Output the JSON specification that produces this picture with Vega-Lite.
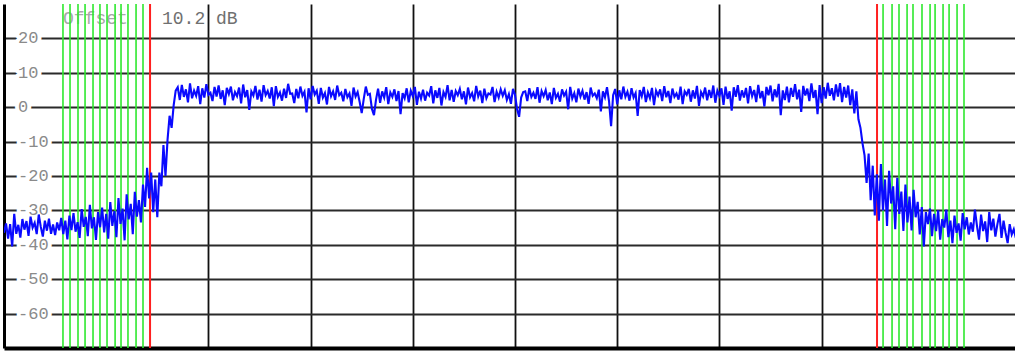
{
  "$schema": "https://vega.github.io/schema/vega-lite/v6.json",
  "autosize": {"type": "none"},
  "width": 1011,
  "height": 344,
  "padding": {"left": 4, "top": 4, "right": 0, "bottom": 4},
  "background": "white",
  "config": {
    "view": {"stroke": null},
    "axis": {"labels": false, "ticks": false, "title": null}
  },
  "datasets": {
    "trace": [
      {"f":0,"d":-36.5},{"f":2,"d":-33.8},{"f":4,"d":-38.2},{"f":6,"d":-34.0},{"f":8,"d":-40.5},{"f":10,"d":-31.0},{"f":12,"d":-36.8},{"f":14,"d":-34.2},{"f":16,"d":-37.9},{"f":18,"d":-32.5},
      {"f":20,"d":-35.6},{"f":22,"d":-33.1},{"f":24,"d":-37.4},{"f":26,"d":-31.8},{"f":28,"d":-35.0},{"f":30,"d":-33.6},{"f":32,"d":-36.9},{"f":34,"d":-31.2},{"f":36,"d":-34.8},{"f":38,"d":-37.6},
      {"f":40,"d":-33.0},{"f":42,"d":-35.9},{"f":44,"d":-32.4},{"f":46,"d":-36.8},{"f":48,"d":-34.1},{"f":50,"d":-37.2},{"f":52,"d":-33.5},{"f":54,"d":-35.8},
      {"f":56,"d":-32.2},{"f":58,"d":-36.9},{"f":60,"d":-33.0},{"f":62,"d":-38.4},{"f":64,"d":-31.5},{"f":66,"d":-35.7},{"f":68,"d":-30.8},{"f":70,"d":-36.2},{"f":72,"d":-33.4},{"f":74,"d":-38.0},
      {"f":76,"d":-29.6},{"f":78,"d":-34.8},{"f":80,"d":-31.9},{"f":82,"d":-37.5},{"f":84,"d":-28.4},{"f":86,"d":-35.2},{"f":88,"d":-32.0},{"f":90,"d":-38.6},{"f":92,"d":-30.5},{"f":94,"d":-34.9},
      {"f":96,"d":-29.2},{"f":98,"d":-36.4},{"f":100,"d":-31.0},{"f":102,"d":-38.2},{"f":104,"d":-27.6},{"f":106,"d":-34.5},{"f":108,"d":-30.2},{"f":110,"d":-37.8},{"f":112,"d":-26.4},{"f":114,"d":-33.9},
      {"f":116,"d":-29.5},{"f":118,"d":-38.7},{"f":120,"d":-25.3},{"f":122,"d":-32.6},{"f":124,"d":-28.1},{"f":126,"d":-36.9},{"f":128,"d":-24.6},{"f":130,"d":-31.8},{"f":132,"d":-27.0},{"f":134,"d":-33.5},
      {"f":136,"d":-22.5},{"f":138,"d":-29.0},{"f":140,"d":-17.6},{"f":142,"d":-26.5},{"f":144,"d":-19.0},{"f":146,"d":-30.5},{"f":148,"d":-21.0},
      {"f":150,"d":-32.0},{"f":152,"d":-19.0},{"f":154,"d":-23.0},{"f":156,"d":-11.0},{"f":158,"d":-20.0},{"f":160,"d":-9.5},{"f":162,"d":-2.5},{"f":164,"d":-6.0},{"f":166,"d":0.5},{"f":168,"d":4.8},
      {"f":170,"d":5.8},{"f":172,"d":2.1},{"f":174,"d":6.5},{"f":176,"d":3.0},{"f":178,"d":5.2},{"f":180,"d":1.4},{"f":182,"d":6.9},{"f":184,"d":2.6},{"f":186,"d":4.8},{"f":188,"d":3.3},
      {"f":190,"d":6.1},{"f":192,"d":0.9},{"f":194,"d":5.5},{"f":196,"d":2.8},{"f":198,"d":6.7},{"f":200,"d":3.6},{"f":202,"d":4.2},{"f":204,"d":1.8},{"f":206,"d":5.9},{"f":208,"d":3.1},
      {"f":210,"d":6.3},{"f":212,"d":2.4},{"f":214,"d":4.9},{"f":216,"d":0.6},{"f":218,"d":5.6},{"f":220,"d":3.8},{"f":222,"d":6.0},{"f":224,"d":2.0},{"f":226,"d":4.4},{"f":228,"d":3.2},
      {"f":230,"d":5.7},{"f":232,"d":1.1},{"f":234,"d":6.6},{"f":236,"d":2.9},{"f":238,"d":5.0},{"f":240,"d":-0.8},{"f":242,"d":4.6},{"f":244,"d":3.4},{"f":246,"d":6.2},{"f":248,"d":2.2},
      {"f":250,"d":5.1},{"f":252,"d":1.6},{"f":254,"d":6.4},{"f":256,"d":3.5},{"f":258,"d":4.7},{"f":260,"d":2.5},{"f":262,"d":5.8},{"f":264,"d":0.3},{"f":266,"d":6.1},{"f":268,"d":3.0},
      {"f":270,"d":4.3},{"f":272,"d":1.9},{"f":274,"d":5.4},{"f":276,"d":2.7},{"f":278,"d":6.8},{"f":280,"d":3.9},{"f":282,"d":4.0},{"f":284,"d":1.2},{"f":286,"d":5.3},{"f":288,"d":2.6},
      {"f":290,"d":6.0},{"f":292,"d":3.3},{"f":294,"d":4.5},{"f":296,"d":-1.5},{"f":298,"d":5.5},{"f":300,"d":2.3},{"f":302,"d":6.2},{"f":304,"d":3.7},{"f":306,"d":4.8},{"f":308,"d":1.0},
      {"f":310,"d":5.6},{"f":312,"d":2.8},{"f":314,"d":4.1},{"f":316,"d":0.8},{"f":318,"d":5.9},{"f":320,"d":3.2},{"f":322,"d":4.6},{"f":324,"d":2.1},{"f":326,"d":6.3},{"f":328,"d":3.5},
      {"f":330,"d":4.2},{"f":332,"d":1.7},{"f":334,"d":5.3},{"f":336,"d":2.9},{"f":338,"d":4.0},{"f":340,"d":0.4},{"f":342,"d":5.7},{"f":344,"d":3.1},{"f":346,"d":4.4},{"f":348,"d":1.5},
      {"f":350,"d":-1.7},{"f":352,"d":2.4},{"f":354,"d":6.0},{"f":356,"d":3.6},{"f":358,"d":3.9},{"f":360,"d":-0.5},{"f":362,"d":-2.3},{"f":364,"d":2.2},{"f":366,"d":5.4},{"f":368,"d":1.3},
      {"f":370,"d":4.6},{"f":372,"d":2.8},{"f":374,"d":5.8},{"f":376,"d":0.9},{"f":378,"d":4.3},{"f":380,"d":3.0},{"f":382,"d":5.2},{"f":384,"d":1.8},{"f":386,"d":4.7},{"f":388,"d":-2.0},
      {"f":390,"d":4.1},{"f":392,"d":2.6},{"f":394,"d":5.5},{"f":396,"d":1.4},{"f":398,"d":4.8},{"f":400,"d":3.2},{"f":402,"d":5.9},{"f":404,"d":0.7},{"f":406,"d":4.5},{"f":408,"d":2.5},
      {"f":410,"d":5.1},{"f":412,"d":1.9},{"f":414,"d":4.2},{"f":416,"d":3.4},{"f":418,"d":6.1},{"f":420,"d":1.1},{"f":422,"d":4.9},{"f":424,"d":2.7},{"f":426,"d":5.6},{"f":428,"d":0.5},
      {"f":430,"d":4.4},{"f":432,"d":3.0},{"f":434,"d":6.4},{"f":436,"d":2.0},{"f":438,"d":5.0},{"f":440,"d":1.6},{"f":442,"d":4.7},{"f":444,"d":3.5},{"f":446,"d":5.3},{"f":448,"d":2.3},
      {"f":450,"d":4.6},{"f":452,"d":0.8},{"f":454,"d":5.7},{"f":456,"d":2.9},{"f":458,"d":4.1},{"f":460,"d":1.7},{"f":462,"d":6.2},{"f":464,"d":3.1},{"f":466,"d":4.8},{"f":468,"d":1.2},
      {"f":470,"d":5.4},{"f":472,"d":2.6},{"f":474,"d":4.0},{"f":476,"d":3.7},{"f":478,"d":5.9},{"f":480,"d":1.5},{"f":482,"d":4.5},{"f":484,"d":2.8},{"f":486,"d":5.2},{"f":488,"d":3.3},
      {"f":490,"d":4.9},{"f":492,"d":2.1},{"f":494,"d":3.8},{"f":496,"d":1.0},{"f":498,"d":5.3},{"f":500,"d":3.6},{"f":502,"d":-0.5},{"f":504,"d":-2.8},{"f":506,"d":2.8},{"f":508,"d":4.4},
      {"f":510,"d":4.6},{"f":512,"d":1.8},{"f":514,"d":5.5},{"f":516,"d":3.0},{"f":518,"d":4.2},{"f":520,"d":2.4},{"f":522,"d":5.8},{"f":524,"d":1.3},{"f":526,"d":4.7},{"f":528,"d":3.2},
      {"f":530,"d":5.0},{"f":532,"d":2.0},{"f":534,"d":4.3},{"f":536,"d":0.9},{"f":538,"d":5.6},{"f":540,"d":2.7},{"f":542,"d":3.9},{"f":544,"d":1.6},{"f":546,"d":5.2},{"f":548,"d":3.4},
      {"f":550,"d":4.5},{"f":552,"d":-0.6},{"f":554,"d":5.9},{"f":556,"d":2.5},{"f":558,"d":4.1},{"f":560,"d":1.4},{"f":562,"d":5.4},{"f":564,"d":3.1},{"f":566,"d":4.8},{"f":568,"d":2.2},
      {"f":570,"d":4.4},{"f":572,"d":1.0},{"f":574,"d":5.7},{"f":576,"d":3.3},{"f":578,"d":4.0},{"f":580,"d":2.6},{"f":582,"d":5.1},{"f":584,"d":-1.2},{"f":586,"d":4.6},{"f":588,"d":2.9},
      {"f":590,"d":5.8},{"f":592,"d":1.7},{"f":594,"d":-5.5},{"f":596,"d":3.5},{"f":598,"d":5.3},{"f":600,"d":0.8},{"f":602,"d":4.9},{"f":604,"d":2.3},{"f":606,"d":6.0},{"f":608,"d":3.0},
      {"f":610,"d":4.5},{"f":612,"d":1.9},{"f":614,"d":5.5},{"f":616,"d":2.8},{"f":618,"d":4.1},{"f":620,"d":-2.5},{"f":622,"d":5.0},{"f":624,"d":3.2},{"f":626,"d":5.9},{"f":628,"d":1.5},
      {"f":630,"d":4.3},{"f":632,"d":2.6},{"f":634,"d":5.6},{"f":636,"d":0.6},{"f":638,"d":4.8},{"f":640,"d":3.4},{"f":642,"d":5.2},{"f":644,"d":1.8},{"f":646,"d":6.1},{"f":648,"d":2.9},
      {"f":650,"d":4.7},{"f":652,"d":1.2},{"f":654,"d":5.4},{"f":656,"d":3.0},{"f":658,"d":4.0},{"f":660,"d":2.2},{"f":662,"d":6.0},{"f":664,"d":0.9},{"f":666,"d":4.6},{"f":668,"d":3.6},
      {"f":670,"d":5.3},{"f":672,"d":1.6},{"f":674,"d":4.9},{"f":676,"d":2.5},{"f":678,"d":6.2},{"f":680,"d":0.4},{"f":682,"d":4.4},{"f":684,"d":3.1},{"f":686,"d":5.7},{"f":688,"d":2.0},
      {"f":690,"d":5.0},{"f":692,"d":2.7},{"f":694,"d":6.3},{"f":696,"d":1.3},{"f":698,"d":4.8},{"f":700,"d":3.3},{"f":702,"d":5.5},{"f":704,"d":0.7},{"f":706,"d":6.0},{"f":708,"d":2.4},
      {"f":710,"d":4.6},{"f":712,"d":-1.0},{"f":714,"d":5.8},{"f":716,"d":3.0},{"f":718,"d":6.4},{"f":720,"d":1.9},{"f":722,"d":4.9},{"f":724,"d":2.8},{"f":726,"d":5.6},{"f":728,"d":1.1},
      {"f":730,"d":6.1},{"f":732,"d":3.2},{"f":734,"d":5.0},{"f":736,"d":1.5},{"f":738,"d":6.5},{"f":740,"d":2.6},{"f":742,"d":4.7},{"f":744,"d":0.2},{"f":746,"d":5.9},{"f":748,"d":3.5},
      {"f":750,"d":6.3},{"f":752,"d":1.7},{"f":754,"d":5.2},{"f":756,"d":2.9},{"f":758,"d":6.8},{"f":760,"d":-2.3},{"f":762,"d":4.9},{"f":764,"d":2.1},{"f":766,"d":6.0},{"f":768,"d":1.4},
      {"f":770,"d":5.6},{"f":772,"d":3.0},{"f":774,"d":6.7},{"f":776,"d":2.3},{"f":778,"d":5.1},{"f":780,"d":-1.4},{"f":782,"d":6.2},{"f":784,"d":3.4},{"f":786,"d":5.4},{"f":788,"d":1.8},
      {"f":790,"d":6.9},{"f":792,"d":2.7},{"f":794,"d":5.0},{"f":796,"d":-2.0},{"f":798,"d":6.4},{"f":800,"d":1.2},{"f":802,"d":5.8},{"f":804,"d":2.5},{"f":806,"d":7.1},{"f":808,"d":3.3},
      {"f":810,"d":5.5},{"f":812,"d":2.0},{"f":814,"d":6.6},{"f":816,"d":3.1},{"f":818,"d":7.0},{"f":820,"d":1.5},{"f":822,"d":5.9},{"f":824,"d":2.8},{"f":826,"d":6.3},{"f":828,"d":0.6},
      {"f":830,"d":5.2},{"f":832,"d":-1.8},{"f":834,"d":4.6},{"f":836,"d":-3.5},{"f":838,"d":-6.0},{"f":840,"d":-10.5},{"f":842,"d":-14.0},{"f":844,"d":-22.0},{"f":846,"d":-13.5},{"f":848,"d":-27.0},
      {"f":850,"d":-17.0},{"f":852,"d":-31.5},{"f":854,"d":-19.5},{"f":856,"d":-33.0},{"f":858,"d":-16.5},{"f":860,"d":-30.0},{"f":862,"d":-21.0},{"f":864,"d":-34.5},{"f":866,"d":-18.5},{"f":868,"d":-28.0},
      {"f":870,"d":-23.0},{"f":872,"d":-35.5},{"f":874,"d":-20.5},{"f":876,"d":-31.0},{"f":878,"d":-24.5},{"f":880,"d":-36.0},{"f":882,"d":-22.5},{"f":884,"d":-33.5},{"f":886,"d":-26.0},{"f":888,"d":-35.8},
      {"f":890,"d":-24.0},{"f":892,"d":-32.0},{"f":894,"d":-27.5},{"f":896,"d":-37.0},{"f":898,"d":-29.0},{"f":900,"d":-40.5},{"f":902,"d":-30.5},{"f":904,"d":-34.0},{"f":906,"d":-29.5},{"f":908,"d":-37.5},
      {"f":910,"d":-31.0},{"f":912,"d":-36.0},{"f":914,"d":-30.0},{"f":916,"d":-38.5},{"f":918,"d":-32.5},{"f":920,"d":-35.0},{"f":922,"d":-29.8},{"f":924,"d":-37.8},{"f":926,"d":-33.0},{"f":928,"d":-39.5},
      {"f":930,"d":-31.5},{"f":932,"d":-36.5},{"f":934,"d":-33.8},{"f":936,"d":-38.8},{"f":938,"d":-30.8},{"f":940,"d":-35.5},{"f":942,"d":-32.0},{"f":944,"d":-37.0},{"f":946,"d":-33.5},{"f":948,"d":-36.2},
      {"f":950,"d":-29.8},{"f":952,"d":-34.5},{"f":954,"d":-38.5},{"f":956,"d":-31.2},{"f":958,"d":-36.0},{"f":960,"d":-33.2},{"f":962,"d":-39.2},{"f":964,"d":-30.5},{"f":966,"d":-35.8},{"f":968,"d":-32.4},
      {"f":970,"d":-37.6},{"f":972,"d":-34.0},{"f":974,"d":-31.0},{"f":976,"d":-38.0},{"f":978,"d":-33.0},{"f":980,"d":-36.5},{"f":982,"d":-39.5},{"f":984,"d":-34.0},{"f":986,"d":-37.0},{"f":988,"d":-35.5},{"f":990,"d":-38.0}
    ],
    "green": [
      {"p":57.7},{"p":64.6},{"p":72.4},{"p":79.3},{"p":87.1},{"p":93.9},{"p":100.8},{"p":108.7},{"p":114.5},{"p":121.3},{"p":129.2},{"p":136.0},
      {"p":860.1},{"p":868.9},{"p":875.7},{"p":883.6},{"p":889.4},{"p":898.2},{"p":906.1},{"p":911.0},{"p":918.8},{"p":924.7},{"p":932.5},{"p":939.3}
    ],
    "red": [{"p":142.9},{"p":854.2}],
    "labels": [
      {"v":20,"t":"20"},{"v":10,"t":"10"},{"v":0,"t":"0"},{"v":-10,"t":"-10"},{"v":-20,"t":"-20"},
      {"v":-30,"t":"-30"},{"v":-40,"t":"-40"},{"v":-50,"t":"-50"},{"v":-60,"t":"-60"}
    ]
  },
  "layer": [
    {
      "data": {"name": "labels"},
      "mark": {"type": "text", "align": "left", "baseline": "middle", "font": "Liberation Mono", "fontSize": 17, "color": "white", "stroke": "white", "strokeWidth": 8, "strokeJoin": "round"},
      "encoding": {
        "x": {"datum": 13.7, "type": "quantitative", "scale": {"domain": [0, 989.2], "nice": false, "zero": false},
              "axis": {"orient": "bottom", "grid": true, "values": [200,300,400,500,600,700,800], "gridColor": "#111111", "gridWidth": 1.8, "domainColor": "#000000", "domainWidth": 4, "labels": false, "ticks": false, "title": null}},
        "y": {"field": "v", "type": "quantitative", "title": null, "scale": {"domain": [-70, 30], "nice": false, "zero": false},
              "axis": {"orient": "left", "grid": true, "values": [-60,-50,-40,-30,-20,-10,0,10,20], "gridColor": "#2a2a2a", "gridWidth": 2, "domainColor": "#000000", "domainWidth": 3, "labels": false, "ticks": false, "title": null}},
        "text": {"field": "t"}
      }
    },
    {
      "data": {"name": "labels"},
      "mark": {"type": "text", "align": "left", "baseline": "middle", "font": "Liberation Mono", "fontSize": 17, "color": "#8a8a8a"},
      "encoding": {
        "x": {"datum": 13.7, "type": "quantitative"},
        "y": {"field": "v", "type": "quantitative", "title": null},
        "text": {"field": "t"}
      }
    },
    {
      "data": {"values": [{"t": "Offset"}]},
      "mark": {"type": "text", "align": "left", "baseline": "middle", "font": "Liberation Mono", "fontSize": 18, "color": "#a8a8a8"},
      "encoding": {
        "x": {"datum": 57.7, "type": "quantitative"},
        "y": {"datum": 25.6, "type": "quantitative"},
        "text": {"field": "t"}
      }
    },
    {
      "data": {"values": [{"t": "10.2 dB"}]},
      "mark": {"type": "text", "align": "left", "baseline": "middle", "font": "Liberation Mono", "fontSize": 18, "color": "#707070"},
      "encoding": {
        "x": {"datum": 154.6, "type": "quantitative"},
        "y": {"datum": 25.6, "type": "quantitative"},
        "text": {"field": "t"}
      }
    },
    {
      "mark": {"type": "rule", "color": "#000000", "strokeWidth": 3},
      "encoding": {"x": {"datum": 500, "type": "quantitative"}}
    },
    {
      "data": {"name": "green"},
      "mark": {"type": "rule", "color": "#2ee82e", "strokeWidth": 1.6},
      "encoding": {"x": {"field": "p", "type": "quantitative", "title": null}}
    },
    {
      "data": {"name": "red"},
      "mark": {"type": "rule", "color": "#ff2020", "strokeWidth": 2},
      "encoding": {"x": {"field": "p", "type": "quantitative", "title": null}}
    },
    {
      "data": {"name": "trace"},
      "mark": {"type": "line", "color": "#0a0aff", "strokeWidth": 2.1, "clip": true},
      "encoding": {
        "x": {"field": "f", "type": "quantitative", "title": null},
        "y": {"field": "d", "type": "quantitative", "title": null}
      }
    },
    {
      "mark": {"type": "rule", "color": "#000000", "strokeWidth": 3},
      "encoding": {"y": {"datum": 30, "type": "quantitative"}}
    }
  ]
}
